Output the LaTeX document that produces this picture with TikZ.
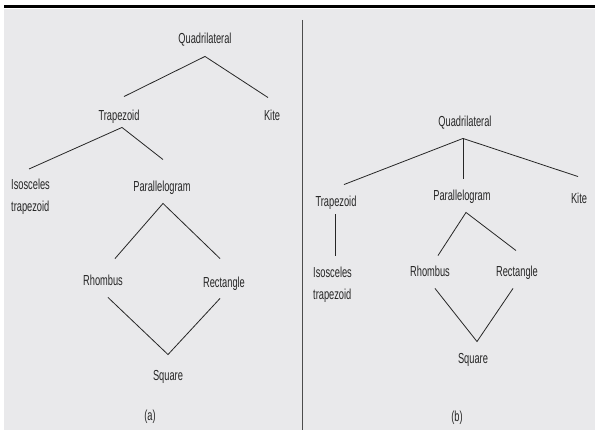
\documentclass[tikz,border=0pt]{standalone}
\usepackage{fontspec}
\setmainfont[FakeStretch=0.64]{Liberation Sans}
\definecolor{panel}{HTML}{E9E9EB}
\definecolor{ink}{HTML}{262626}
\tikzset{lbl/.style={inner sep=0pt,text height=10.5pt,text depth=3pt,text=ink,font=\fontsize{14.5}{22}\selectfont},
  twolbl/.style={inner sep=0pt,align=left,text=ink,anchor=north west,font=\fontsize{14.5}{22}\selectfont},
  br/.style={draw=ink,line width=0.8pt}}
\begin{document}
\begin{tikzpicture}[x=1pt,y=-1pt]
       \useasboundingbox (0,0) rectangle (595,430);
       \fill[white] (0,0) rectangle (595,430);
       \fill[panel] (4,9) rectangle (595,430);
       \draw[black,line width=3pt] (4,7) -- (595,7);
       \draw[black!70,line width=1pt] (302,20) -- (302,430);
       % (a)
       \node[lbl] (q1) at (205,40) {Quadrilateral};
       \node[lbl] (t1) at (119,117) {Trapezoid};
       \node[lbl] (k1) at (272,117) {Kite};
       \node[twolbl] (iso1) at (11,179) {Isosceles\\trapezoid};
       \node[lbl] (p1) at (162,188) {Parallelogram};
       \node[lbl] (r1) at (103,282) {Rhombus};
       \node[lbl] (re1) at (224,284) {Rectangle};
       \node[lbl] (s1) at (168,377) {Square};
       \node[lbl] (ca) at (150,417) {(a)};
       \draw[br] ([shift={(5,-13.5)}]t1.north) -- ([shift={(0,9.5)}]q1.south) -- ([shift={(-4,-12.5)}]k1.north);
       \draw[br] ([shift={(18,-10)}]iso1.north west) -- ([shift={(3,3.5)}]t1.south) -- ([shift={(1,-21.5)}]p1.north);
       \draw[br] ([shift={(12,-16.5)}]r1.north) -- ([shift={(1,8.5)}]p1.south) -- ([shift={(-4,-18.5)}]re1.north);
       \draw[br] ([shift={(5,8.5)}]r1.south) -- ([shift={(0,-15.5)}]s1.north) -- ([shift={(-4,7.5)}]re1.south);
       % (b)
       \node[lbl] (q2) at (465,123) {Quadrilateral};
       \node[lbl] (t2) at (336,203) {Trapezoid};
       \node[lbl] (p2) at (462,197) {Parallelogram};
       \node[lbl] (k2) at (579,200) {Kite};
       \node[twolbl] (iso2) at (313,267) {Isosceles\\trapezoid};
       \node[lbl] (r2) at (430,273) {Rhombus};
       \node[lbl] (re2) at (517,273) {Rectangle};
       \node[lbl] (s2) at (473,360) {Square};
       \node[lbl] (cb) at (457,418) {(b)};
       \draw[br] ([shift={(8,-11.5)}]t2.north) -- ([shift={(-2,8.5)}]q2.south) -- ([shift={(-1,-16.5)}]k2.north);
       \draw[br] ([shift={(-2,8.5)}]q2.south) -- ([shift={(1,-11.5)}]p2.north);
       \draw[br] ([shift={(-1,4.5)}]t2.south) -- ([shift={(22,-11)}]iso2.north west);
       \draw[br] ([shift={(8,-10.5)}]r2.north) -- ([shift={(4,8.5)}]p2.south) -- ([shift={(-1,-15.5)}]re2.north);
       \draw[br] ([shift={(5,8.5)}]r2.south) -- ([shift={(4,-11.5)}]s2.north) -- ([shift={(-4,8.5)}]re2.south);
\end{tikzpicture}
\end{document}
